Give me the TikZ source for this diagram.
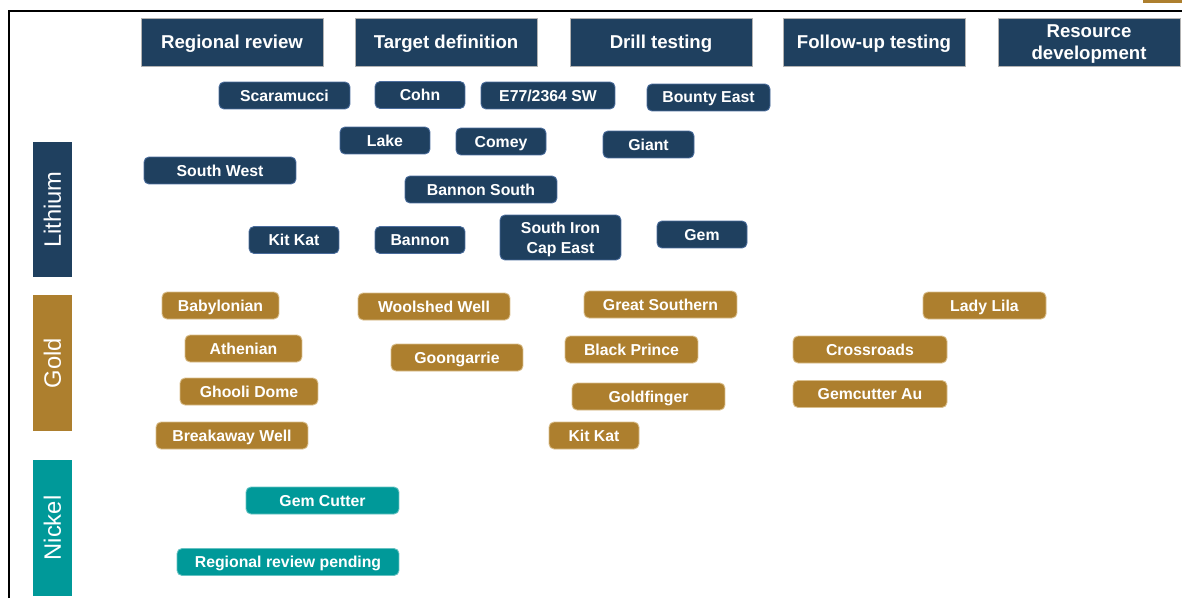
\documentclass[tikz,border=0pt]{standalone}
\usepackage{fontspec}
\setmainfont{Liberation Sans}
\usetikzlibrary{positioning}

\definecolor{navy}{HTML}{1F405F}
\definecolor{navyedge}{HTML}{4A6C9C}
\definecolor{ochre}{HTML}{AD7F2E}
\definecolor{ochreedge}{HTML}{D9BE8C}
\definecolor{teal}{HTML}{009999}

\begin{document}
\begin{tikzpicture}[x=0.02cm,y=-0.02cm,
    stage/.style={fill=navy,draw=gray!60,line width=0.4pt,text=white,
      font=\fontsize{10.6}{12.6}\selectfont\bfseries,align=center,
      minimum width=36.4mm,minimum height=9.6mm,inner sep=0pt,text depth=0pt},
    metal/.style={text=white,font=\fontsize{13.5}{15}\selectfont,rotate=90,
      minimum width=27.2mm,minimum height=7.8mm,inner sep=0pt},
    li/.style={fill=navy,draw=navyedge,line width=0.5pt,rounded corners=1mm,
      text=white,font=\fontsize{9}{11}\selectfont\bfseries,align=center,
      minimum height=5.4mm,inner sep=0pt,text depth=0pt},
    au/.style={li,fill=ochre,draw=ochreedge},
    ni/.style={li,fill=teal,draw=teal!60}]
    \useasboundingbox (0,0) rectangle (1182,598);

    % frame
    \draw[line width=1.1pt] (9,598) -- (9,11) -- (1182,11);
    \fill[ochre] (1143,0) rectangle (1182,3);

    % stages
    \node[stage] (regional) at (232,42) {Regional review};
    \node[stage] (target) at (446,42) {Target definition};
    \node[stage] (drill) at (661,42) {Drill testing};
    \node[stage] (followup) at (874,42) {Follow-up testing};
    \node[stage,text depth=-4.2pt] (resource) at (1089,42) {Resource\\development};

    % commodities
    \node[metal,fill=navy] (lithium) at (52.5,209.5) {Lithium};
    \node[metal,fill=ochre] (gold) at (52.5,363) {Gold};
    \node[metal,fill=teal] (nickel) at (52.5,528) {Nickel};

    % lithium projects
    \node[li,minimum width=26.2mm] (scaramucci) at (284.5,95.5) {Scaramucci};
    \node[li,minimum width=18mm] (cohn) at (420,95) {Cohn};
    \node[li,minimum width=26.8mm] (esw) at (548,95.5) {E77/2364 SW};
    \node[li,minimum width=24.6mm] (bounty) at (708.5,97.5) {Bounty East};
    \node[li,minimum width=18mm] (lake) at (385,140.5) {Lake};
    \node[li,minimum width=18mm] (comey) at (501,141.5) {Comey};
    \node[li,minimum width=18.2mm] (giant) at (648.5,144.5) {Giant};
    \node[li,minimum width=30.4mm] (southwest) at (220,170.5) {South West};
    \node[li,minimum width=30.4mm] (bannonsth) at (481,189.5) {Bannon South};
    \node[li,minimum width=18mm] (kitkatli) at (294,240) {Kit Kat};
    \node[li,minimum width=18mm] (bannon) at (420,240) {Bannon};
    \node[li,minimum width=24.2mm,minimum height=9mm,text depth=-3.5pt,
      font=\fontsize{9}{11.2}\selectfont\bfseries] (ironcap) at (560.5,237.5) {South Iron\\Cap East};
    \node[li,minimum width=18mm] (gem) at (702,234.5) {Gem};

    % gold projects
    \node[au,minimum width=23.4mm] (babylonian) at (220.5,305.5) {Babylonian};
    \node[au,minimum width=30.4mm] (woolshed) at (434,306.5) {Woolshed Well};
    \node[au,minimum width=30.6mm] (greatsth) at (660.5,304.5) {Great Southern};
    \node[au,minimum width=24.6mm] (ladylila) at (984.5,305.5) {Lady Lila};
    \node[au,minimum width=23.4mm] (athenian) at (243.5,348.5) {Athenian};
    \node[au,minimum width=26.4mm] (goongarrie) at (457,357.5) {Goongarrie};
    \node[au,minimum width=26.6mm] (blackprince) at (631.5,349.5) {Black Prince};
    \node[au,minimum width=30.8mm] (crossroads) at (870,349.5) {Crossroads};
    \node[au,minimum width=27.6mm] (ghooli) at (249,391.5) {Ghooli Dome};
    \node[au,minimum width=30.6mm] (goldfinger) at (648.5,396.5) {Goldfinger};
    \node[au,minimum width=30.8mm] (gemcutterau) at (870,394) {Gemcutter Au};
    \node[au,minimum width=30.4mm] (breakaway) at (232,435.5) {Breakaway Well};
    \node[au,minimum width=18mm] (kitkatau) at (594,435.5) {Kit Kat};

    % nickel projects
    \node[ni,minimum width=30.6mm] (gemcutter) at (322.5,500.5) {Gem Cutter};
    \node[ni,minimum width=44.4mm] (pending) at (288,562) {Regional review pending};
\end{tikzpicture}
\end{document}
